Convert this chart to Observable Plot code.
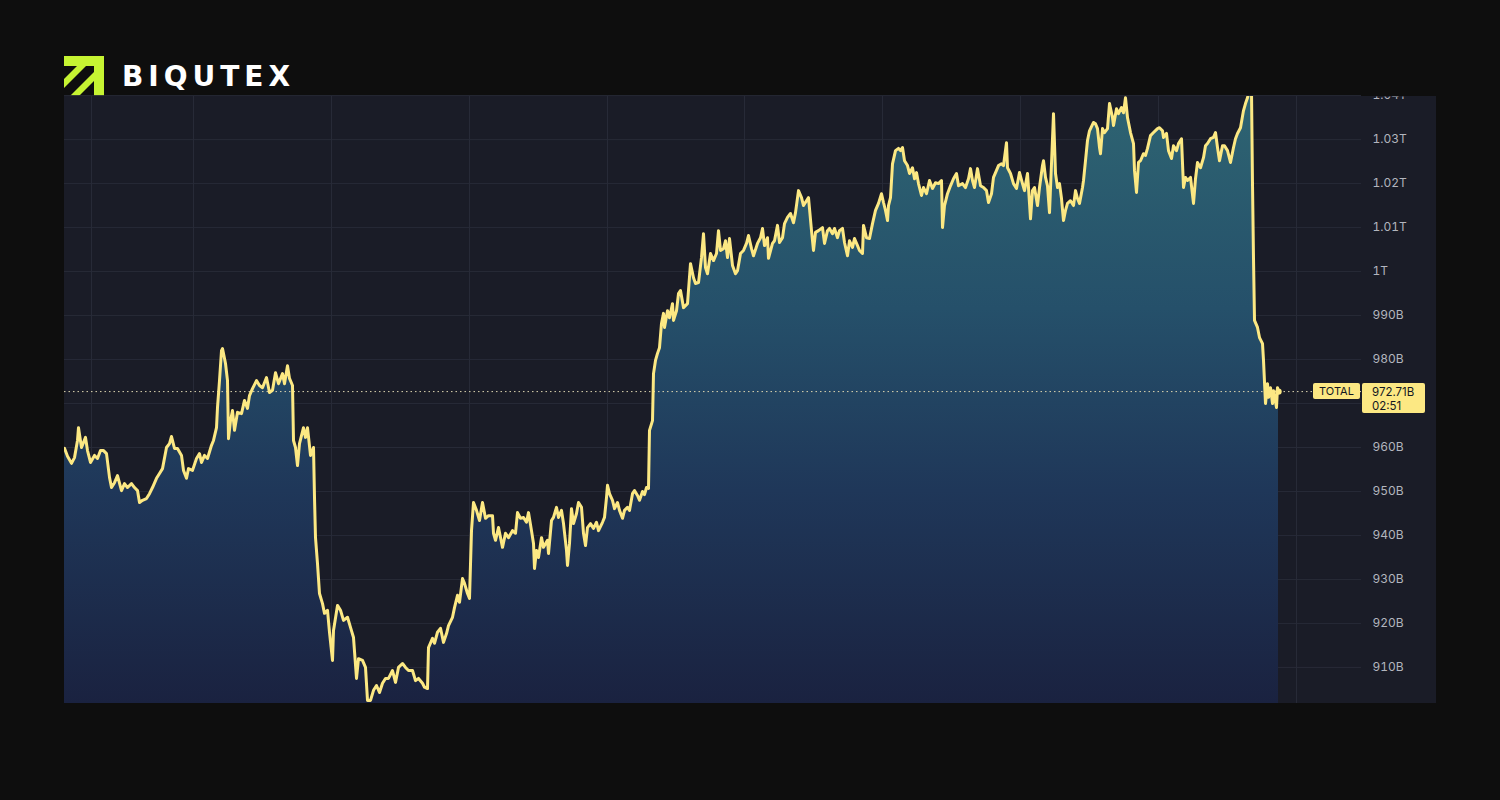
<!DOCTYPE html>
<html><head><meta charset="utf-8">
<script src="https://cdn.jsdelivr.net/npm/d3@7"></script>
<script src="https://cdn.jsdelivr.net/npm/@observablehq/plot@0.6"></script>
<style>
html,body{margin:0;padding:0;background:#0e0e0e;}
body{width:1500px;height:800px;position:relative;overflow:hidden;font-family:Inter,sans-serif;}
#panel{position:absolute;left:64px;top:96px;width:1372px;height:607px;background:#1a1c27;}
#logo{position:absolute;left:64px;top:56px;}
#chart{position:absolute;left:0;top:0;}
</style></head><body>
<div id="panel"></div>
<svg id="logo" width="240" height="40" viewBox="0 0 240 40">
  <rect x="0" y="0" width="40" height="40" fill="#c6f432"/>
  <rect x="0" y="10" width="30" height="30" fill="#0e0e0e"/>
  <polygon points="0,23 0,32 22,10 13,10" fill="#c6f432"/>
  <polygon points="6,40 15,40 30,25 30,16" fill="#c6f432"/>
  <text x="58" y="30" font-family="'DejaVu Sans', sans-serif" font-weight="700" font-size="28" fill="#ffffff" textLength="168" lengthAdjust="spacing">BIQUTEX</text>
</svg>
<div id="chart"></div>
<script>
// time step (sample index along the session) and TOTAL crypto market cap in billions USD
const steps = [0,3,7,10,13,14,17,21,23,26,30,33,36,39,42,45,47,50,53,57,60,63,67,70,73,75,78,82,85,88,92,95,98,102,105,107,110,113,117,119,122,124,128,132,135,137,140,143,147,149,152,153,155,157,158,161,163,164,166,168,170,173,177,180,183,185,188,192,195,198,202,205,208,211,214,218,220,223,225,228,229,231,233,235,239,241,243,246,249,250,251,253,255,258,260,263,265,268,269,273,276,279,283,286,289,292,294,298,301,303,306,309,312,315,318,321,324,328,331,334,338,341,344,348,351,354,358,360,363,364,368,370,373,376,379,382,384,388,390,393,395,398,400,403,405,407,409,412,415,418,421,424,428,429,431,434,438,441,444,448,451,453,456,459,462,464,467,469,470,472,474,477,479,483,484,487,489,492,494,497,499,502,503,505,507,509,512,514,517,519,521,523,526,529,532,534,538,540,542,543,545,548,550,553,555,558,560,563,565,568,570,573,575,578,580,582,584,585,588,589,591,593,595,597,599,600,603,605,608,609,612,614,616,619,623,626,629,631,634,637,639,641,643,646,649,652,654,656,659,661,663,665,668,671,673,676,679,682,684,687,689,693,696,698,700,703,704,708,710,713,715,718,720,723,726,729,731,734,737,739,742,744,747,749,751,754,758,760,763,765,768,770,773,775,778,780,783,785,788,790,793,795,798,799,802,805,808,811,814,817,819,821,823,824,826,828,831,834,836,838,840,843,845,848,850,852,854,857,859,862,865,868,871,874,877,878,880,883,886,889,892,894,898,901,904,906,908,910,913,916,919,922,924,927,929,932,934,937,939,942,943,946,949,952,955,958,960,963,964,966,968,970,973,975,978,979,981,983,985,987,989,991,993,995,997,999,1001,1003,1006,1009,1011,1013,1015,1018,1019,1021,1023,1025,1029,1031,1033,1035,1036,1038,1040,1043,1045,1048,1049,1052,1054,1057,1059,1061,1063,1066,1069,1070,1072,1074,1076,1079,1081,1083,1086,1089,1093,1095,1098,1099,1102,1104,1107,1109,1112,1114,1117,1119,1121,1123,1126,1129,1131,1133,1136,1139,1141,1143,1146,1149,1151,1153,1155,1158,1160,1163,1166,1169,1171,1173,1176,1179,1181,1183,1185,1187,1188,1189,1190,1193,1195,1198,1199,1201,1203,1204,1206,1208,1209,1212,1213,1214];
const capB = [959.8,958,956.4,957.7,961.6,964.5,960,962.3,959.3,956.6,958.2,957.5,959.3,959.3,958.6,953.2,950.9,952,953.6,950.2,951.8,950.9,951.8,950.9,950.2,947.5,948,948.4,949.5,950.9,953,954.1,955.2,960,960.9,962.5,959.8,959.8,958.2,954.8,953,955.2,954.8,957.5,958.6,956.6,958.2,957.5,960.5,961.6,964.5,969.1,975.2,982,982.5,979.1,975.2,962,966.1,968.4,963.9,968,967.7,970.7,968.9,971.8,973.4,975.2,974.1,973.6,975.9,972.5,973,977,974.5,976.8,974.5,978.6,975.7,974.1,961.6,960,955.9,960.9,964.5,962.3,964.5,958.2,960,948.6,939.5,933.6,926.8,924.5,922.3,923,918,911.6,918.4,924.1,923,920.7,921.4,919.1,916.8,907.5,912,911.6,910,902.5,902.5,904.8,905.9,904.3,906.4,907.5,907.5,909.3,906.6,910,910.9,910,909.3,909.3,907,907.5,906.4,905.5,905.2,914.5,916.6,915.5,918,918.9,915.7,917.7,919.5,921.4,923.6,926.4,924.8,930.2,929.1,926.8,925.7,941.1,947.5,945.7,943.4,947.5,943.9,944.5,944.5,940.5,938.9,941.8,937.3,940.5,939.5,941.1,940.5,945.2,943.9,944.1,943,945.2,941.1,938.2,932.5,936.6,935,939.5,937.3,938.9,935.9,943.4,944.1,946.4,944.1,945.7,942.7,936.6,933.2,938.2,946.1,942.7,945,947.5,946.4,940.5,937.7,941.8,942.7,941.6,943,941.1,943,944.1,948.6,951.4,949.5,948,946.1,947.5,945.7,943.9,945.7,946.4,945.7,949.5,950.2,949.1,948,950,949.3,950.9,950.7,963.9,966.1,976.8,979.8,981.4,982.7,988.2,990.5,987.3,991.1,989.5,992.7,988.9,991.1,995,995.7,991.8,992.7,1001.8,998.6,997.3,997.5,1003.2,1008.6,1000.9,999.5,1004.1,1002.5,1004.1,1009.3,1004.8,1005.2,1007,1003.2,1007.5,1001.4,999.5,1000.2,1004.1,1004.8,1006.4,1008.2,1005.2,1003.6,1006.4,1007.7,1009.8,1005.9,1007.7,1003,1006.4,1007,1010.5,1006.6,1007.7,1010.9,1012.3,1013.2,1011.1,1013.4,1018.4,1016.8,1015,1016.1,1016.8,1009.3,1004.8,1008.9,1009.3,1010,1006.4,1009.3,1009.8,1008.6,1009.8,1007.7,1009.3,1009.8,1006.6,1003.6,1007,1005.5,1007.5,1005.9,1004.8,1004.1,1010.5,1007.7,1007.5,1010.9,1013.9,1015.5,1017.7,1015.7,1013.9,1011.6,1015,1016.8,1024.5,1027.5,1028,1027.5,1028.2,1025.2,1024.1,1022.3,1023.6,1021.1,1022.5,1020,1017.3,1019.1,1017.7,1020.7,1018.9,1020.2,1020,1020.7,1010,1015,1017.7,1019.5,1021.1,1022.3,1019.5,1020,1019.1,1021.1,1023.4,1020.7,1019.1,1023.4,1019.5,1019.1,1018.4,1015.7,1017.7,1021.4,1023,1024.1,1024.5,1024.1,1029.3,1023.6,1022.3,1020,1018.9,1022.5,1020,1018.4,1022.3,1019.1,1012,1018.4,1019.1,1015,1019.1,1024.1,1025.2,1021.4,1019.5,1013.4,1024.5,1035.9,1022.3,1019.1,1020,1016.6,1011.6,1013.9,1015.5,1016.1,1015,1018.4,1016.6,1015.5,1019.1,1020.7,1025.2,1029.8,1032,1033.9,1033.6,1032.5,1028.2,1026.8,1032.5,1031.6,1032.5,1038.2,1035,1033.2,1037,1035.9,1037.3,1036.1,1039.5,1035,1031.6,1029.1,1023,1018,1024.8,1025.2,1026.8,1026.4,1028,1030.9,1031.6,1032.5,1032.7,1032,1030.5,1031.4,1027.5,1025.7,1028.6,1027.5,1029.1,1030.2,1019.1,1021.4,1020.7,1021.4,1015.5,1021.1,1024.8,1023.6,1025.9,1028.6,1029.1,1030.2,1030.5,1031.6,1028.2,1025.2,1028.6,1028.6,1027.5,1024.8,1028.2,1030.2,1031.4,1032.7,1036.6,1038.2,1039.5,1041.5,1041,1020,1003,988.9,987.3,985,983.6,979.8,970,974.5,971.4,973.6,970,972.9,969.1,973.6,972.71];
const yTicks = [910,920,930,940,950,960,970,980,990,1000,1010,1020,1030,1040];
const xGridTicks = [27,129,267,405,543,680,818,956,1094,1232];
const xDomain = [0,1297];
const yDomain = [901.8,1039.8];
const seriesName = "TOTAL";
const countdown = "02:51";

const series = steps.map((t,i) => ({t, v: capB[i]}));
const last = series[series.length-1];
const fmt = v => v >= 1000 ? (v/1000).toFixed(2).replace(/\.?0+$/,"") + "T" : v + "B";
// the last-value price tag covers the tick label it sits on, as in the original
const labelTicks = yTicks.filter(v => Math.abs(v - last.v) > 4);

function defsMark(index, scales, values, dims) {
  const top = dims.marginTop, bottom = dims.height - dims.marginBottom;
  const defs = d3.create("svg:defs");
  const g = defs.append("linearGradient").attr("id","areaGrad").attr("gradientUnits","userSpaceOnUse")
    .attr("x1",0).attr("x2",0).attr("y1",top).attr("y2",bottom);
  [[0,"#2e6472"],[0.35,"#25506a"],[0.65,"#1f3759"],[1,"#1a2240"]].forEach(([o,c]) =>
    g.append("stop").attr("offset",o).attr("stop-color",c));
  defs.append("clipPath").attr("id","panelClip").append("rect")
    .attr("x",0).attr("y",top).attr("width",dims.width).attr("height",bottom-top);
  return defs.node();
}

const chart = Plot.plot({
  width:1500, height:800, marginTop:96, marginBottom:97, marginLeft:64, marginRight:139,
  style:{background:"transparent", fontFamily:"Inter, sans-serif", fontSize:"12px", color:"#b2b5be", overflow:"visible"},
  x:{type:"linear", domain:xDomain, axis:null, label:null},
  y:{domain:yDomain, axis:null, label:null},
  marks:[
    defsMark,
    Plot.gridY(yTicks, {stroke:"#272a37", strokeOpacity:1}),
    Plot.gridX(xGridTicks, {stroke:"#272a37", strokeOpacity:1}),
    Plot.areaY(series, {x:"t", y:"v", fill:"url(#areaGrad)", clip:true}),
    Plot.ruleY([last.v], {stroke:"#ddd6b0", strokeDasharray:"1.5,3", strokeWidth:1}),
    Plot.line(series, {x:"t", y:"v", stroke:"#fce883", strokeWidth:3, clip:true, strokeLinejoin:"round"}),
    Plot.dot([last], {x:"t", y:"v", r:3.2, fill:"#fce883"}),
    Plot.axisY(labelTicks, {anchor:"right", label:null, tickSize:0, tickPadding:11, tickFormat:fmt, fill:"#b2b5be", fontSize:12})
  ]
});
document.getElementById("chart").appendChild(chart);

const svg = d3.select(chart);
svg.selectAll('g[aria-label="y-axis tick label"]').attr("clip-path","url(#panelClip)");
const ys = chart.scale("y"), xs = chart.scale("x");
const yy = ys.apply(last.v), xr = xs.apply(xDomain[1]);
const g = svg.append("g").attr("font-family","Inter, sans-serif").attr("fill","#131722");
g.append("rect").attr("x", xr-48).attr("y", yy-8).attr("width",47).attr("height",16).attr("rx",2).attr("fill","#fce883");
g.append("text").attr("x", xr-24.5).attr("y", yy).attr("dy","0.35em").attr("text-anchor","middle").attr("font-size",11).text(seriesName);
g.append("rect").attr("x", xr+1).attr("y", yy-8).attr("width",63).attr("height",30).attr("rx",2).attr("fill","#fce883");
g.append("text").attr("x", xr+11).attr("y", yy+0.5).attr("dy","0.35em").attr("text-anchor","start").attr("font-size",11.5).text(last.v.toFixed(2) + "B");
g.append("text").attr("x", xr+11).attr("y", yy+14.5).attr("dy","0.35em").attr("text-anchor","start").attr("font-size",11.5).text(countdown);
</script>
</body></html>
